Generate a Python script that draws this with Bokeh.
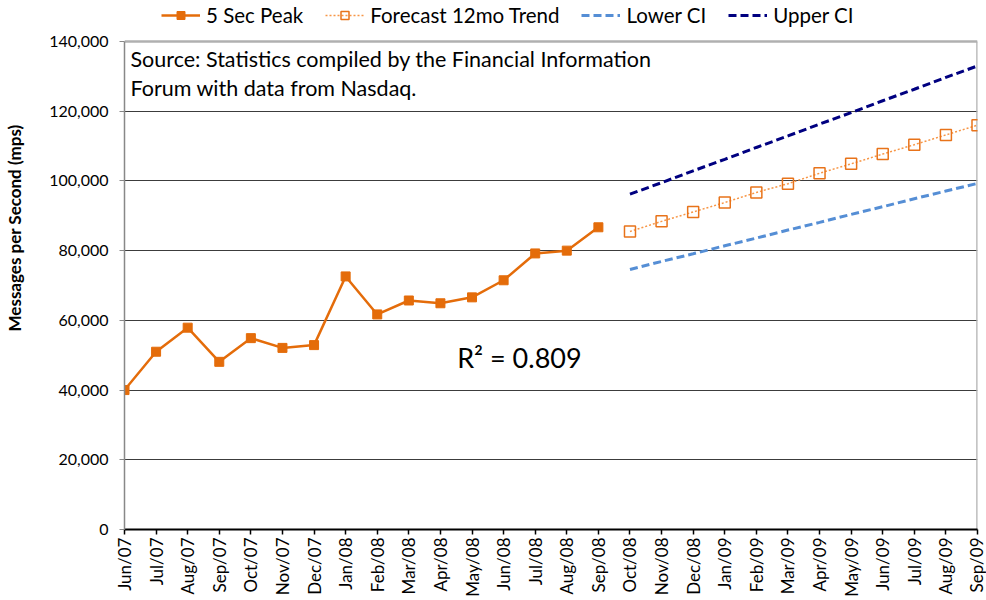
import math
from bokeh.plotting import figure
from bokeh.layouts import row
from bokeh.models import Range1d, FixedTicker, NumeralTickFormatter, Legend, LegendItem, Label
from bokeh.embed import file_html
from bokeh.resources import INLINE

months = ["Jun/07", "Jul/07", "Aug/07", "Sep/07", "Oct/07", "Nov/07", "Dec/07",
          "Jan/08", "Feb/08", "Mar/08", "Apr/08", "May/08", "Jun/08", "Jul/08",
          "Aug/08", "Sep/08", "Oct/08", "Nov/08", "Dec/08", "Jan/09", "Feb/09",
          "Mar/09", "Apr/09", "May/09", "Jun/09", "Jul/09", "Aug/09", "Sep/09"]
peak_5sec = [40000, 51000, 57900, 48100, 54900, 52100, 52900, 72600, 61700,
             65700, 64900, 66600, 71500, 79200, 80000, 86700]
forecast_trend = [85500, 88400, 91100, 93800, 96700, 99200, 102200, 104900,
                  107700, 110400, 113200, 116000]
lower_ci = [74600, 76900, 79100, 81400, 83600, 85900, 88100, 90400, 92600,
            94900, 97100, 99300]
upper_ci = [96200, 99500, 102900, 106200, 109600, 112900, 116300, 119600,
            123000, 126300, 129700, 133000]
y_ticks = [0, 20000, 40000, 60000, 80000, 100000, 120000, 140000]
source_note = "Source: Statistics compiled by the Financial Information\nForum with data from Nasdaq."
r2_note = "R\u00b2 = 0.809"
y_title = "Messages per Second (mps)"

FONT = "Lato"
H = 600
TITLE_W = 26
TOP_GAP = 41      # space above the 140,000 line
BOTTOM = 71       # space for the month labels
n_hist = len(peak_5sec)
x_hist = list(range(n_hist))
x_fc = list(range(n_hist, n_hist + len(forecast_trend)))
y_top = y_ticks[-1]
y_max = y_top * (H - BOTTOM) / (H - BOTTOM - TOP_GAP)   # room for the legend

# ---- narrow strip holding the y-axis title ----
tf = figure(width=TITLE_W, height=H, output_backend="svg", toolbar_location=None,
            x_range=Range1d(0, TITLE_W), y_range=Range1d(0, H), min_border=0)
tf.axis.visible = False
tf.grid.visible = False
tf.outline_line_color = None
tf.add_layout(Label(x=14, y=H - 258, text=y_title, angle=math.pi / 2,
                    text_align="center", text_baseline="middle", text_font=FONT,
                    text_font_size="17px", text_font_style="bold", text_color="black"))

# ---- main chart ----
p = figure(width=986 - TITLE_W, height=H, output_backend="svg", toolbar_location=None,
           x_range=Range1d(0, len(months) - 1), y_range=Range1d(0, y_max),
           min_border_left=124 - TITLE_W, min_border_right=9, min_border_top=0,
           min_border_bottom=BOTTOM)
p.background_fill_color = "white"
p.border_fill_color = "white"
p.outline_line_color = None

p.xaxis.ticker = FixedTicker(ticks=list(range(len(months))))
p.xaxis.major_label_overrides = {i: m for i, m in enumerate(months)}
p.xaxis.major_label_orientation = math.pi / 2
p.xaxis.axis_line_color = "black"
p.xaxis.axis_line_width = 2
p.xaxis.major_tick_line_color = "black"
p.xaxis.major_tick_line_width = 1.5
p.xaxis.major_tick_out = 5
p.xaxis.major_tick_in = 0
p.xaxis.minor_tick_line_color = None
p.xaxis.major_label_standoff = 3
p.xaxis.major_label_text_font = FONT
p.xaxis.major_label_text_font_size = "17px"
p.xaxis.major_label_text_color = "black"

p.yaxis.ticker = FixedTicker(ticks=y_ticks)
p.yaxis.bounds = (0, y_top)
p.yaxis.formatter = NumeralTickFormatter(format="0,0")
p.yaxis.axis_line_color = "#888888"
p.yaxis.axis_line_width = 1.5
p.yaxis.major_tick_line_color = "#888888"
p.yaxis.major_tick_out = 5
p.yaxis.major_tick_in = 0
p.yaxis.minor_tick_line_color = None
p.yaxis.major_label_standoff = 11
p.yaxis.major_label_text_font = FONT
p.yaxis.major_label_text_font_size = "16px"
p.yaxis.major_label_text_color = "black"

p.xgrid.visible = False
p.ygrid.ticker = FixedTicker(ticks=y_ticks[1:-1])
p.ygrid.grid_line_color = "#3c3c3c"
p.ygrid.grid_line_width = 1.2

# plot-area border (top and right), like the reference
p.segment(x0=[0, len(months) - 1], y0=[y_top, 0],
          x1=[len(months) - 1, len(months) - 1], y1=[y_top, y_top],
          line_color="#b0b0b0", line_width=2.5)

# series
r_peak_line = p.line(x_hist, peak_5sec, line_color="#E46C0A", line_width=2.5)
r_peak_pts = p.scatter(x_hist, peak_5sec, marker="square", size=9,
                       fill_color="#E46C0A", line_color="#E46C0A")
r_fc_line = p.line(x_fc, forecast_trend, line_color="#F79646", line_width=1.5,
                   line_dash="2 2")
r_fc_pts = p.scatter(x_fc, forecast_trend, marker="square", size=11,
                     fill_color="white", fill_alpha=0.0, line_color="#E8731A",
                     line_width=1.5)
r_low = p.line(x_fc, lower_ci, line_color="#558ED5", line_width=3, line_dash="8 4")
r_up = p.line(x_fc, upper_ci, line_color="#000080", line_width=3, line_dash="8 4")

legend = Legend(items=[
    LegendItem(label="5 Sec Peak", renderers=[r_peak_line, r_peak_pts]),
    LegendItem(label="Forecast 12mo Trend", renderers=[r_fc_line, r_fc_pts]),
    LegendItem(label="Lower CI", renderers=[r_low]),
    LegendItem(label="Upper CI", renderers=[r_up]),
], orientation="horizontal", location=(37, 502))
legend.border_line_color = None
legend.background_fill_alpha = 0
legend.padding = 0
legend.margin = 0
legend.spacing = 22
legend.glyph_width = 39
legend.glyph_height = 20
legend.label_height = 20
legend.label_standoff = 6
legend.label_text_font = FONT
legend.label_text_font_size = "20.5px"
legend.label_text_color = "black"
p.add_layout(legend, "center")

p.add_layout(Label(x=6, y=y_top, x_units="screen", y_offset=-4,
                   text=source_note, text_baseline="top", text_align="left",
                   text_font=FONT, text_font_size="21.5px", text_color="black",
                   text_line_height=1.12))
p.add_layout(Label(x=12.5, y=49300, text=r2_note, text_align="center",
                   text_baseline="middle", text_font=FONT, text_font_size="27px",
                   text_color="black"))

layout = row(tf, p)
open("out.html", "w").write(file_html(layout, INLINE))
